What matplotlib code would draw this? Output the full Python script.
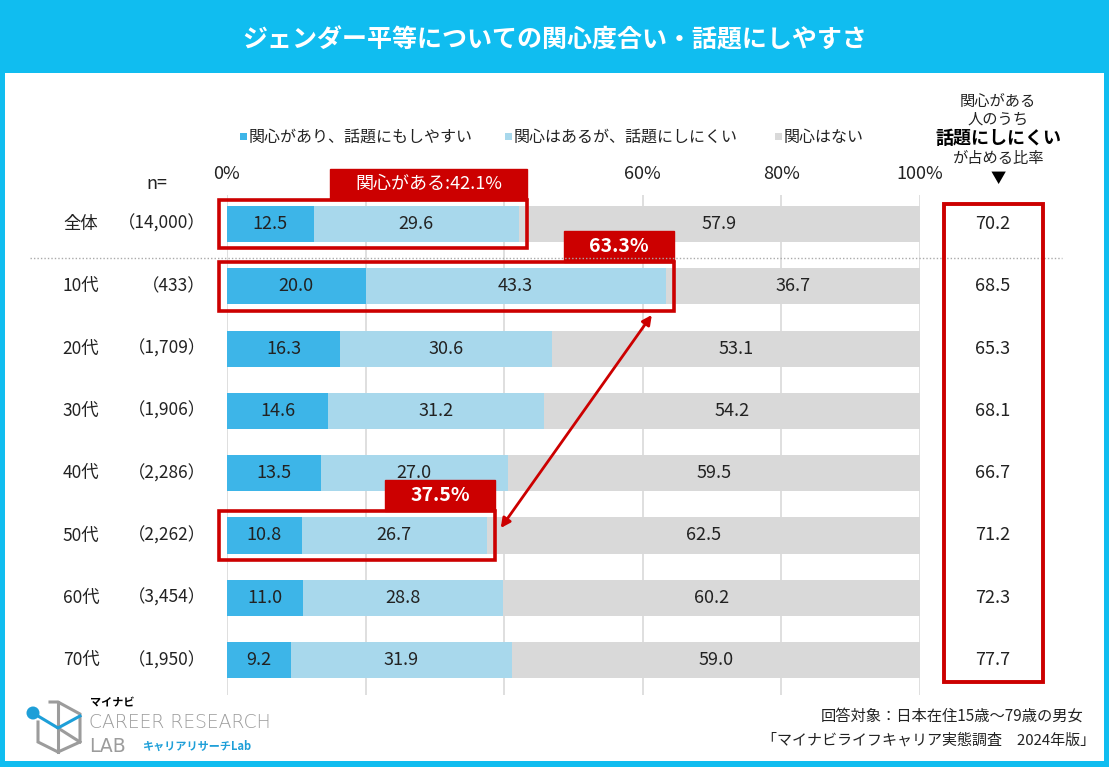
import matplotlib
matplotlib.use("Agg")
import matplotlib.pyplot as plt
from matplotlib.patches import Rectangle, Circle, FancyArrowPatch
from matplotlib.transforms import blended_transform_factory

plt.rcParams['font.family'] = ['Noto Sans CJK JP', 'DejaVu Sans']

# ---------------- data ----------------
categories = ['全体', '10代', '20代', '30代', '40代', '50代', '60代', '70代']
n_labels = ['（14,000）', '（433）', '（1,709）', '（1,906）', '（2,286）', '（2,262）', '（3,454）', '（1,950）']
easy = [12.5, 20.0, 16.3, 14.6, 13.5, 10.8, 11.0, 9.2]
hard = [29.6, 43.3, 30.6, 31.2, 27.0, 26.7, 28.8, 31.9]
none_ = [57.9, 36.7, 53.1, 54.2, 59.5, 62.5, 60.2, 59.0]
ratio = [70.2, 68.5, 65.3, 68.1, 66.7, 71.2, 72.3, 77.7]
ticks = [0, 20, 40, 60, 80, 100]
# 20% and 40% are hidden behind the red label in the reference
tick_labels = ['0%', '', '', '60%', '80%', '100%']
series_names = ['関心があり、話題にもしやすい', '関心はあるが、話題にしにくい', '関心はない']
highlight_rows = [0, 1, 5]
highlight_texts = ['関心がある:42.1%', '63.3%', '37.5%']

title = 'ジェンダー平等についての関心度合い・話題にしやすさ'
col_header = ['関心がある', '人のうち', '話題にしにくい', 'が占める比率', '▼']
foot1 = '回答対象：日本在住15歳～79歳の男女'
foot2 = '「マイナビライフキャリア実態調査　2024年版」'

# ---------------- style ----------------
FRAME = '#10BDF0'
C_EASY = '#3DB5E8'
C_HARD = '#A8D8EC'
C_NONE = '#D9D9D9'
RED = '#CC0000'
TXT = '#222222'
W, H = 1109, 767

fig = plt.figure(figsize=(W / 100, H / 100), dpi=100)
fig.patch.set_facecolor(FRAME)

# background axes in pixel coordinates
bg = fig.add_axes([0, 0, 1, 1], zorder=0)
bg.set_xlim(0, W); bg.set_ylim(H, 0); bg.axis('off')
bg.add_patch(Rectangle((5, 73), W - 10, H - 73 - 6, facecolor='white', edgecolor='none'))
bg.text(W / 2, 40, title, color='white', fontsize=18, fontweight='bold',
        ha='center', va='center')

# bar axes: x 0..100 -> px 227..920, rows centered at px 224 + 62.3*i
x0, x1 = 227, 920
ytop, ybot = 195, 695
rc0, rsp = 224, 62.3
ax = fig.add_axes([x0 / W, 1 - ybot / H, (x1 - x0) / W, (ybot - ytop) / H], zorder=1)
ax.set_xlim(0, 100)
ax.set_ylim((ybot - rc0) / rsp, (ytop - rc0) / rsp)
ax.axis('off')
ax.patch.set_alpha(0)

for t in ticks:
    ax.axvline(t, color='#D9D9D9', lw=1.2, zorder=0)

ypos = list(range(len(categories)))
bh = 0.58
ax.barh(ypos, easy, height=bh, color=C_EASY, zorder=2)
ax.barh(ypos, hard, left=easy, height=bh, color=C_HARD, zorder=2)
left3 = [a + b for a, b in zip(easy, hard)]
ax.barh(ypos, none_, left=left3, height=bh, color=C_NONE, zorder=2)

for i in ypos:
    ax.text(easy[i] / 2, i, f'{easy[i]:.1f}', ha='center', va='center', fontsize=13, color=TXT, zorder=3)
    ax.text(easy[i] + hard[i] / 2, i, f'{hard[i]:.1f}', ha='center', va='center', fontsize=13, color=TXT, zorder=3)
    ax.text(left3[i] + none_[i] / 2, i, f'{none_[i]:.1f}', ha='center', va='center', fontsize=13, color=TXT, zorder=3)

# overlay axes
ov = fig.add_axes([0, 0, 1, 1], zorder=2)
ov.set_xlim(0, W); ov.set_ylim(H, 0); ov.axis('off')
ov.patch.set_alpha(0)

xt = blended_transform_factory(ax.transData, ov.transData)
yt = blended_transform_factory(ov.transData, ax.transData)

for t, lab in zip(ticks, tick_labels):
    if lab:
        ov.text(t, 174, lab, transform=xt, ha='center', va='center', fontsize=13, color=TXT, zorder=1)

# legend
leg_x = [240, 505, 775]
leg_c = [C_EASY, C_HARD, C_NONE]
for lx, c, name in zip(leg_x, leg_c, series_names):
    ov.add_patch(Rectangle((lx, 133), 7, 7, facecolor=c, edgecolor='none'))
    ov.text(lx + 9, 137, name, ha='left', va='center', fontsize=11.5, color=TXT)

# row labels
ov.text(157, 184, 'n=', ha='center', va='center', fontsize=13, color=TXT)
for i in ypos:
    ov.text(81, i, categories[i], transform=yt, ha='center', va='center', fontsize=12.5, color=TXT)
    ov.text(206, i, n_labels[i], transform=yt, ha='right', va='center', fontsize=12.5, color=TXT)

# dotted separator
ov.plot([30, 1062], [258, 258], color='#AAAAAA', lw=1, ls=(0, (1, 1.5)), zorder=0)

# right column
hx = 998
ov.text(hx, 101, col_header[0], ha='center', va='center', fontsize=11, color=TXT)
ov.text(hx, 119, col_header[1], ha='center', va='center', fontsize=11, color=TXT)
ov.text(hx, 139, col_header[2], ha='center', va='center', fontsize=13, fontweight='bold', color='black')
ov.text(hx, 158, col_header[3], ha='center', va='center', fontsize=11, color=TXT)
ov.text(hx, 178, col_header[4], ha='center', va='center', fontsize=11, color='black')
ov.add_patch(Rectangle((944, 204), 99, 478, facecolor='none', edgecolor=RED, lw=2.8, zorder=3))
for i in ypos:
    ov.text(993, i, f'{ratio[i]:.1f}', transform=yt, ha='center', va='center', fontsize=13, color=TXT)

# highlight boxes (in bar-axes data units)
pad_x = 1.2
pad_y = 0.39
lab_h = 0.5
lab_w = [28.4, 15.9, 15.9]
for r, txt, lw_ in zip(highlight_rows, highlight_texts, lab_w):
    right = easy[r] + hard[r] + pad_x
    ax.add_patch(Rectangle((-pad_x, r - pad_y), right + pad_x, 2 * pad_y,
                           facecolor='none', edgecolor=RED, lw=2.6, zorder=5, clip_on=False))
    ax.add_patch(Rectangle((right - lw_, r - pad_y - lab_h), lw_, lab_h,
                           facecolor=RED, edgecolor=RED, lw=1, zorder=6, clip_on=False))
    ax.text(right - lw_ / 2, r - pad_y - lab_h / 2, txt, ha='center', va='center',
            fontsize=13 if r == 0 else 14, color='white', fontweight='bold' if r else 'normal',
            zorder=7, clip_on=False)

# double arrow between 10代 and 50代 boxes
a1 = (easy[1] + hard[1] - 2.0, 1 + 0.46)
a2 = (easy[5] + hard[5] + 2.0, 5 - 0.12)
arr = FancyArrowPatch(a1, a2, arrowstyle='<|-|>', mutation_scale=14, color=RED, lw=2,
                      shrinkA=0, shrinkB=0, zorder=6, clip_on=False)
ax.add_patch(arr)

# footer
ov.text(1083, 716, foot1, ha='right', va='center', fontsize=11, color=TXT)
ov.text(1095, 740, foot2, ha='right', va='center', fontsize=10.8, color=TXT)

# logo
GRAY = '#9C9C9C'
LB = '#1E9FD8'
ov.plot([38, 38, 58, 80, 80, 58, 50], [722, 742, 752, 742, 714, 702, 702], color=GRAY, lw=2.2,
        solid_joinstyle='miter')
ov.plot([58, 58], [702, 752], color=GRAY, lw=2.2)
ov.plot([58, 80], [728, 742], color=GRAY, lw=2.2)
ov.plot([33, 58, 80], [713, 728, 716], color=LB, lw=2.2)
ov.add_patch(Circle((33, 713), 6.5, facecolor=LB, edgecolor='none', zorder=4))
ov.text(90, 703, 'マイナビ', ha='left', va='center', fontsize=8, fontweight='bold', color='black')
ov.text(89, 723, 'CAREER RESEARCH', ha='left', va='center', fontsize=13.5, color=GRAY,
        family=['DejaVu Sans'], fontweight='light')
ov.text(89, 746, 'LAB', ha='left', va='center', fontsize=13.5, color=GRAY, family=['DejaVu Sans'])
ov.text(143, 746, 'キャリアリサーチLab', ha='left', va='center', fontsize=8, fontweight='bold', color=LB)

fig.savefig('out.png', dpi=100, facecolor=fig.get_facecolor())
